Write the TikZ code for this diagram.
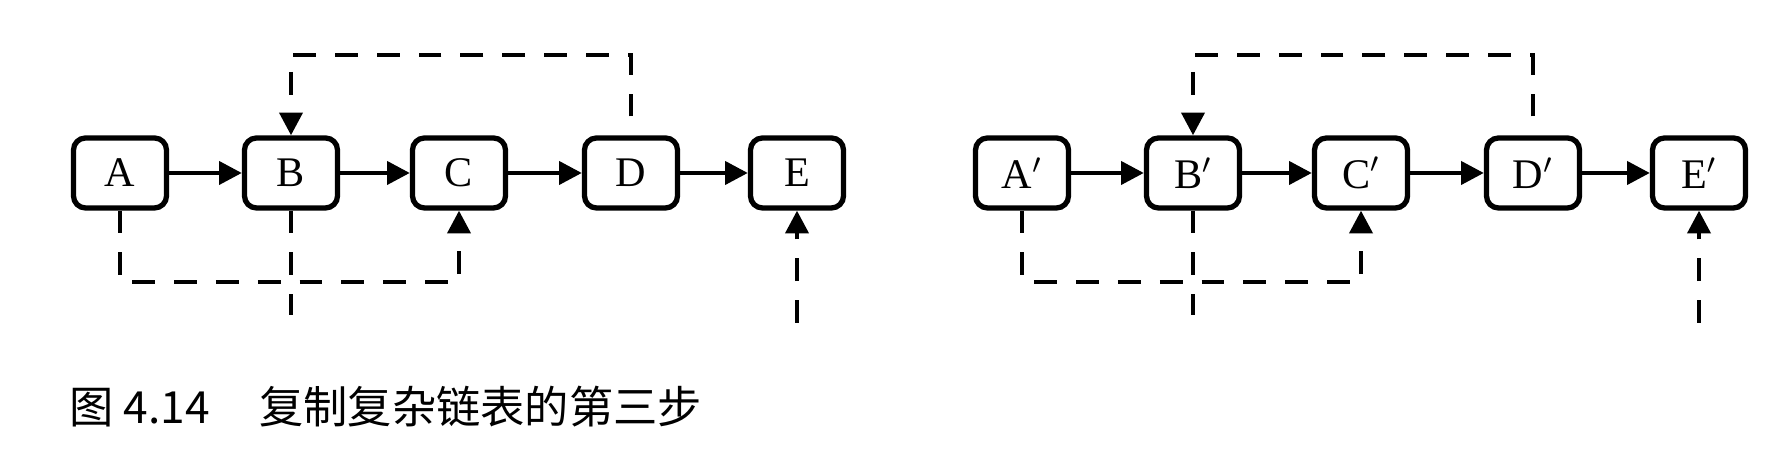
\documentclass[tikz,border=0pt]{standalone}
\usepackage{fontspec}
\setmainfont{Liberation Serif}
\newfontfamily\cjk{Noto Sans CJK SC}
\usetikzlibrary{positioning, arrows.meta, calc}

\begin{document}
\begin{tikzpicture}[
    >={Triangle[length=6.5pt, width=6.5pt]},
    box/.style={draw, rectangle, rounded corners=1.2mm, line width=1.5pt, minimum width=0.93cm, minimum height=0.70cm, inner sep=0pt, font=\fontsize{12}{12}\selectfont},
    next_arrow/.style={->, line width=1.3pt},
    rand_arrow/.style={line width=1.3pt, dash pattern=on 6.5pt off 5.4pt},
    cap_font/.style={font=\fontsize{12.6}{15}\cjk}
]
\useasboundingbox (0,0) rectangle (17.9,4.66);

% 0. 虚线的上下高度
\coordinate (top_l) at (0, 4.11);
\coordinate (bot_l) at (0, 1.84);

% 1. 原链表 A -> E
\node[box] (a) at (1.20, 2.93) {A};
\node[box] (b) at (2.91, 2.93) {B};
\node[box] (c) at (4.59, 2.93) {C};
\node[box] (d) at (6.31, 2.93) {D};
\node[box] (e) at (7.97, 2.93) {E};

\draw[next_arrow] (a) -- (b);
\draw[next_arrow] (b) -- (c);
\draw[next_arrow] (c) -- (d);
\draw[next_arrow] (d) -- (e);

% 2. 原链表的 sibling 指针 (虚线)
\coordinate (b_end) at (2.91, 1.51);
\coordinate (e_end) at (7.97, 1.43);
\draw[rand_arrow, ->, dash phase=6.5pt] (d.north) -- (d.north |- top_l) -| (b.north);
\draw[rand_arrow, ->] (a.south) -- (a.south |- bot_l) -| (c.south);
\draw[rand_arrow] (b.south) -- (b_end);
\draw[rand_arrow, ->] (e_end) -- (e.south);

% 3. 复制出来的链表 A' -> E'
\node[box] (a2) at (10.22, 2.93) {A$'$};
\node[box] (b2) at (11.93, 2.93) {B$'$};
\node[box] (c2) at (13.61, 2.93) {C$'$};
\node[box] (d2) at (15.33, 2.93) {D$'$};
\node[box] (e2) at (16.99, 2.93) {E$'$};

\draw[next_arrow] (a2) -- (b2);
\draw[next_arrow] (b2) -- (c2);
\draw[next_arrow] (c2) -- (d2);
\draw[next_arrow] (d2) -- (e2);

% 4. 复制链表的 sibling 指针 (虚线)
\coordinate (b2_end) at (11.93, 1.51);
\coordinate (e2_end) at (16.99, 1.43);
\draw[rand_arrow, ->, dash phase=6.5pt] (d2.north) -- (d2.north |- top_l) -| (b2.north);
\draw[rand_arrow, ->] (a2.south) -- (a2.south |- bot_l) -| (c2.south);
\draw[rand_arrow] (b2.south) -- (b2_end);
\draw[rand_arrow, ->] (e2_end) -- (e2.south);

% 5. 图题
\node[cap_font, anchor=west] (cap) at (0.57, 0.59) {图 4.14\hspace{1.12em}复制复杂链表的第三步};

\end{tikzpicture}
\end{document}
